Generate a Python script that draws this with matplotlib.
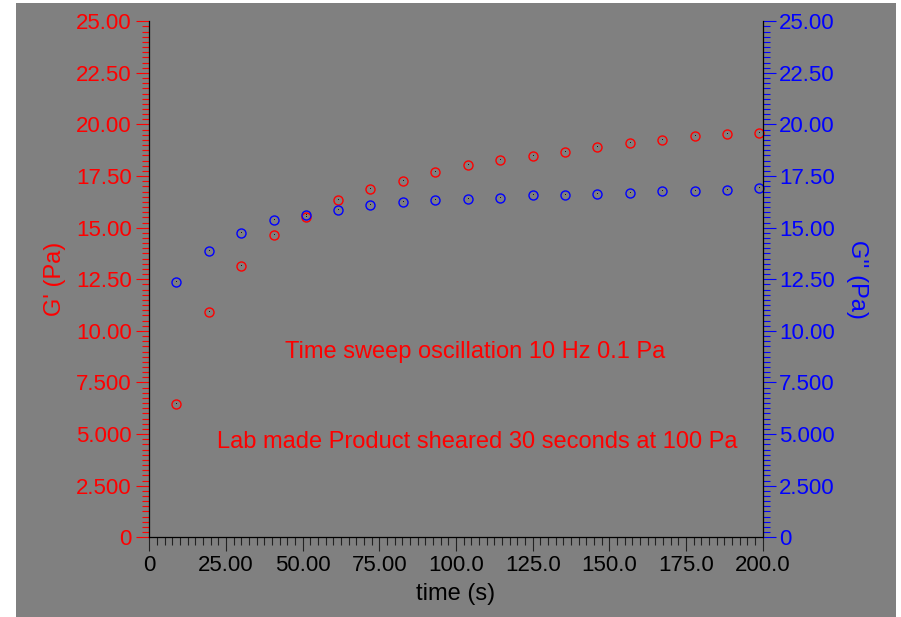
import matplotlib
matplotlib.use("Agg")
import matplotlib.pyplot as plt
from matplotlib.patches import Rectangle
from matplotlib.ticker import FixedLocator, FixedFormatter, MultipleLocator

plt.rcParams['font.family'] = ['Liberation Sans', 'DejaVu Sans']

# time sweep data
time_s = [8.8, 19.4, 29.9, 40.6, 51.1, 61.6, 72.1, 82.6, 93.2, 103.8,
          114.4, 125.0, 135.5, 146.1, 156.7, 167.3, 177.9, 188.2, 198.8]
g_storage = [6.44, 10.92, 13.13, 14.65, 15.52, 16.34, 16.86, 17.26, 17.68, 18.02,
             18.27, 18.49, 18.67, 18.91, 19.09, 19.26, 19.43, 19.55, 19.60]
g_loss = [12.37, 13.89, 14.76, 15.36, 15.63, 15.87, 16.10, 16.23, 16.34, 16.39,
          16.45, 16.57, 16.57, 16.63, 16.70, 16.77, 16.77, 16.81, 16.94]

x_ticks = [0, 25, 50, 75, 100, 125, 150, 175, 200]
x_tick_labels = ['0', '25.00', '50.00', '75.00', '100.0', '125.0', '150.0', '175.0', '200.0']
y_ticks = [0, 2.5, 5, 7.5, 10, 12.5, 15, 17.5, 20, 22.5, 25]
y_tick_labels = ['0', '2.500', '5.000', '7.500', '10.00', '12.50', '15.00',
                 '17.50', '20.00', '22.50', '25.00']

RED = '#ff0000'
BLUE = '#0000ff'
BG = '#808080'
FS = 16
FS_LABEL = 17

fig = plt.figure(figsize=(9.01, 6.17), dpi=100, facecolor='white')
fig.patches.append(Rectangle((16 / 901, 0), 880 / 901, 1 - 3 / 617,
                             transform=fig.transFigure, facecolor=BG,
                             edgecolor='none', zorder=-10))

ax = fig.add_axes([149.3 / 901, 1 - 537.3 / 617, 613.4 / 901, 516 / 617])
ax.set_facecolor('none')
ax2 = ax.twinx()
ax2.set_facecolor('none')

for a in (ax, ax2):
    a.set_xlim(0, 200)
    a.set_ylim(0, 25)
    a.spines['top'].set_visible(False)
    for s in ('left', 'right', 'bottom'):
        a.spines[s].set_color('black')
        a.spines[s].set_linewidth(0.9)

ax.spines['right'].set_visible(False)
ax2.spines['left'].set_visible(False)
ax2.spines['bottom'].set_visible(False)

# G' on left axis
ax.plot(time_s, g_storage, linestyle='none', marker='o', ms=6.5, mfc='none',
        mec=RED, mew=1.0, clip_on=False)
ax.plot(time_s, g_storage, linestyle='none', marker=',', color='#1a1a1a', clip_on=False)
# G'' on right axis
ax2.plot(time_s, g_loss, linestyle='none', marker='o', ms=6.5, mfc='none',
         mec=BLUE, mew=1.0, clip_on=False)
ax2.plot(time_s, g_loss, linestyle='none', marker=',', color='#1a1a1a', clip_on=False)

# x axis ticks
ax.xaxis.set_major_locator(FixedLocator(x_ticks))
ax.xaxis.set_major_formatter(FixedFormatter(x_tick_labels))
ax.xaxis.set_minor_locator(MultipleLocator(2.5))
ax.tick_params(axis='x', which='major', direction='out', length=10, width=0.8,
               color='#222222', labelcolor='black', labelsize=FS, pad=3)
ax.tick_params(axis='x', which='minor', direction='out', length=5.5, width=0.8,
               color='#222222')

# left y axis
ax.yaxis.set_major_locator(FixedLocator(y_ticks))
ax.yaxis.set_major_formatter(FixedFormatter(y_tick_labels))
ax.yaxis.set_minor_locator(MultipleLocator(0.25))
ax.tick_params(axis='y', which='major', direction='out', length=9.5, width=0.8,
               color=RED, labelcolor=RED, labelsize=FS, pad=3)
ax.tick_params(axis='y', which='minor', direction='out', length=5, width=0.8, color=RED)

# right y axis
ax2.yaxis.set_major_locator(FixedLocator(y_ticks))
ax2.yaxis.set_major_formatter(FixedFormatter(y_tick_labels))
ax2.yaxis.set_minor_locator(MultipleLocator(0.25))
ax2.tick_params(axis='y', which='major', direction='out', length=9, width=0.8,
                color=BLUE, labelcolor=BLUE, labelsize=FS, pad=3)
ax2.tick_params(axis='y', which='minor', direction='out', length=5, width=0.8, color=BLUE)

# axis labels
ax.set_xlabel('time (s)', fontsize=FS_LABEL, color='black', va='center')
ax.xaxis.set_label_coords(0.5, -0.11)
ax.set_ylabel("G' (Pa)", fontsize=FS_LABEL, color=RED, rotation=90,
              ha='center', va='center', rotation_mode='anchor')
ax.yaxis.set_label_coords(-0.1537, 0.5)
ax2.set_ylabel("G'' (Pa)", fontsize=FS_LABEL, color=BLUE, rotation=270,
               ha='center', va='center', rotation_mode='anchor')
ax2.yaxis.set_label_coords(1.1533, 0.5)

# annotations
ax.text(0.531, 0.36, 'Time sweep oscillation 10 Hz 0.1 Pa', transform=ax.transAxes,
        ha='center', va='center', fontsize=FS_LABEL, color=RED)
ax.text(0.535, 0.184, 'Lab made Product sheared 30 seconds at 100 Pa',
        transform=ax.transAxes, ha='center', va='center', fontsize=FS_LABEL, color=RED)

fig.savefig('out.png', dpi=100, facecolor='white')
